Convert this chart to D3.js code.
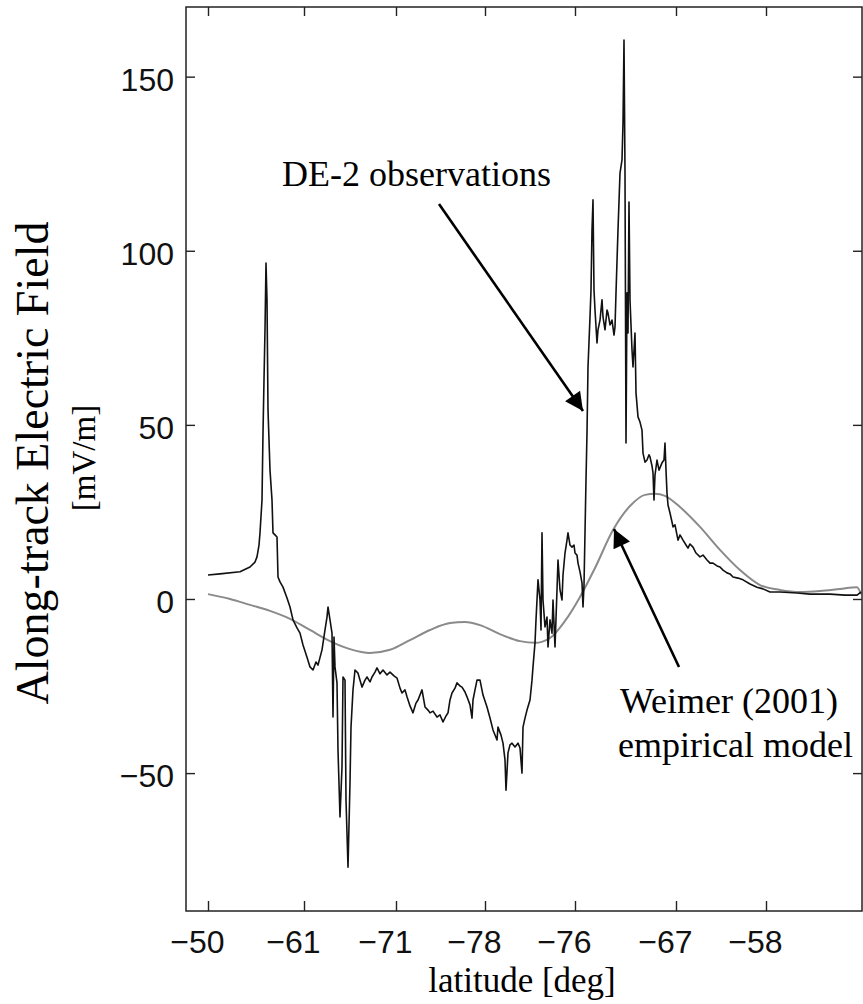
<!DOCTYPE html>
<html>
<head>
<meta charset="utf-8">
<script src="https://cdn.jsdelivr.net/npm/d3@7"></script>
<style>
  html, body { margin: 0; padding: 0; background: #fff; }
  svg { display: block; }
</style>
</head>
<body>
<svg id="chart" width="863" height="1004"></svg>
<script>
// Along-track position (arbitrary time units along the pass) and field values in mV/m.
const obsT = [22,34,54,64,69,71,73,74,76,77,78,79,80,81,82,84,86,87,89,91,92,94,97,101,104,107,111,114,117,121,124,127,130,132,136,139,141,142,144,146,147,148,149,151,152,154,156,157,159,160,162,164,165,167,169,172,176,179,181,184,186,189,191,194,197,201,204,208,211,214,216,219,221,224,227,230,232,236,239,242,244,247,251,254,257,260,262,264,266,269,271,274,276,279,281,284,286,287,289,291,294,297,301,304,307,311,312,315,317,319,320,322,324,326,329,332,334,336,337,339,341,344,346,347,349,350,351,352,354,355,356,357,359,361,362,364,366,367,369,371,372,374,376,377,379,381,382,384,386,388,389,391,392,394,396,397,398,399,400,401,402,404,405,406,407,408,409,411,412,414,416,417,419,421,422,424,426,428,429,430,432,434,436,437,438,439,440,441,442,443,444,446,447,449,450,452,454,456,457,459,461,463,464,466,467,468,469,471,473,476,478,479,480,481,482,484,486,487,489,492,494,497,500,502,504,507,510,514,517,521,524,527,531,534,537,541,544,547,552,557,564,571,577,584,594,611,624,644,659,671,675];
const obsE = [6.9,7.2,7.8,9.2,10.6,12.1,15.5,19.0,28.4,47.7,62.9,77.3,96.5,85.9,54.3,37.0,28.4,19.0,18.4,17.8,6.3,4.9,3.4,0.3,-2.3,-6.0,-8.3,-9.8,-13.2,-16.7,-19.5,-20.4,-18.1,-19.0,-14.6,-8.9,-5.2,-2.3,-6.0,-9.8,-33.9,-10.9,-19.5,-24.1,-43.4,-62.6,-48.2,-22.4,-23.3,-57.7,-77.0,-52.8,-36.8,-26.1,-20.4,-21.3,-25.3,-23.3,-22.4,-23.8,-22.4,-21.0,-19.8,-21.5,-20.4,-21.8,-21.0,-22.1,-22.7,-25.6,-27.0,-26.1,-28.1,-30.7,-32.7,-29.9,-29.0,-26.1,-31.0,-31.9,-32.7,-32.2,-33.9,-33.3,-35.3,-33.6,-32.7,-29.0,-27.0,-25.6,-24.1,-25.0,-25.3,-26.7,-28.1,-30.4,-34.2,-29.0,-26.1,-23.3,-23.3,-27.6,-31.0,-34.2,-37.6,-40.5,-36.8,-39.1,-41.4,-46.2,-54.9,-44.2,-41.9,-41.4,-42.5,-41.4,-42.8,-50.0,-36.8,-34.2,-31.9,-29.0,-23.3,-19.5,-12.6,-6.0,-0.3,5.5,-0.3,-8.9,19.0,-0.3,-8.0,-5.2,-13.8,-6.0,-9.8,-0.3,-13.8,2.6,11.2,2.6,-0.3,6.9,13.2,16.9,19.0,15.5,14.9,15.5,13.2,12.6,10.3,7.8,4.6,-2.3,4.0,19.0,34.2,47.7,66.6,81.0,88.7,106.0,114.6,88.7,83.0,73.5,77.3,80.1,85.9,81.0,77.3,83.0,82.1,78.7,80.1,75.8,78.1,87.9,106.0,122.3,126.1,136.7,160.5,122.3,44.8,87.9,76.4,114.0,85.9,71.5,66.6,76.4,59.2,52.3,50.8,48.5,41.9,39.3,39.9,41.4,40.8,38.2,36.2,28.4,35.6,39.9,37.0,39.1,39.9,44.8,37.0,30.4,27.0,24.7,22.1,20.7,21.3,16.9,18.4,16.9,15.5,14.6,15.8,14.9,13.2,12.1,12.6,11.2,10.3,10.3,9.5,9.2,8.3,7.5,7.2,6.3,6.0,5.5,4.3,3.4,2.9,2.0,2.0,1.7,1.4,1.4,1.1,1.1,2.0];

// Weimer (2001) empirical model along the same pass.
const modelT = [22,44,64,84,104,124,144,164,184,204,224,244,264,279,294,314,334,349,364,379,394,409,427,444,459,469,479,494,514,534,554,574,594,614,634,654,671,675];
const modelE = [1.4,0,-1.7,-3.4,-5.7,-8.9,-12.1,-14.4,-15.5,-14.6,-11.8,-8.9,-6.9,-6.6,-7.5,-10.1,-12.1,-12.6,-11.2,-6.3,0.6,8.9,19.8,26.7,29.9,30.2,29.6,26.4,20.7,14.1,8.3,4.0,2.6,2.0,2.3,2.9,3.4,1.4];

// Latitude tick labels along the pass.
const latTickPos = [22, 118, 210, 299, 389, 490, 580];
const latTickLabels = ["\u221250", "\u221261", "\u221271", "\u221278", "\u221276", "\u221267", "\u221258"];
const fieldTicks = [-50, 0, 50, 100, 150];

(function draw() {
  const svg = d3.select("#chart");
  const pL = 186, pR = 862, pT = 7, pB = 911;

  const x = d3.scaleLinear().domain([0, 676]).range([pL, pR]);
  const y = d3.scaleLinear().domain([-89.6, 170]).range([pB, pT]);

  const SANS = "'Liberation Sans', Arial, sans-serif";
  const SERIF = "'Liberation Serif', 'Times New Roman', serif";

  // Traces
  const plot = svg.append("g");
  plot.append("path")
    .datum(modelT.map((t, i) => [t, modelE[i]]))
    .attr("d", d3.line().x(d => x(d[0])).y(d => y(d[1])).curve(d3.curveMonotoneX))
    .attr("fill", "none").attr("stroke", "#8a8a8a").attr("stroke-width", 2);
  plot.append("path")
    .datum(obsT.map((t, i) => [t, obsE[i]]))
    .attr("d", d3.line().x(d => x(d[0])).y(d => y(d[1])))
    .attr("fill", "none").attr("stroke", "#111").attr("stroke-width", 1.6)
    .attr("stroke-linejoin", "round");

  // Axes with inward ticks
  const xb = svg.append("g").attr("transform", `translate(0,${pB})`)
    .call(d3.axisBottom(x).tickValues(latTickPos).tickSizeInner(-10).tickSizeOuter(0)
          .tickFormat((d, i) => latTickLabels[i]));
  xb.selectAll("text").attr("dx", -11).attr("dy", 0).attr("y", 42);
  const xt = svg.append("g").attr("transform", `translate(0,${pT})`)
    .call(d3.axisTop(x).tickValues(latTickPos).tickSizeInner(-9).tickSizeOuter(0).tickFormat(""));
  const yl = svg.append("g").attr("transform", `translate(${pL},0)`)
    .call(d3.axisLeft(y).tickValues(fieldTicks).tickSizeInner(-9).tickSizeOuter(0)
          .tickFormat(d => d < 0 ? "\u2212" + Math.abs(d) : String(d)));
  yl.selectAll("text").attr("x", -12).attr("dy", "0.36em").attr("y", 2);
  const yr = svg.append("g").attr("transform", `translate(${pR},0)`)
    .call(d3.axisRight(y).tickValues(fieldTicks).tickSizeInner(-9).tickSizeOuter(0).tickFormat(""));

  [xb, xt, yl, yr].forEach(g => {
    g.select(".domain").remove();
    g.selectAll(".tick line").attr("stroke", "#222").attr("stroke-width", 1.4);
    g.selectAll("text").attr("font-family", SANS).attr("font-size", 32).attr("fill", "#111");
  });

  // Frame
  svg.append("rect")
    .attr("x", pL).attr("y", pT).attr("width", pR - pL).attr("height", pB - pT)
    .attr("fill", "none").attr("stroke", "#222").attr("stroke-width", 1.5);

  // Axis titles
  svg.append("text")
    .attr("transform", "translate(48,463) rotate(-90)")
    .attr("text-anchor", "middle").attr("font-family", SERIF).attr("font-size", 46)
    .attr("fill", "#000").text("Along-track Electric Field");
  svg.append("text")
    .attr("transform", "translate(95,458) rotate(-90)")
    .attr("text-anchor", "middle").attr("font-family", SERIF).attr("font-size", 33)
    .attr("fill", "#000").text("[mV/m]");
  svg.append("text")
    .attr("x", 522).attr("y", 992)
    .attr("text-anchor", "middle").attr("font-family", SERIF).attr("font-size", 35)
    .attr("fill", "#000").text("latitude [deg]");

  // Annotations with arrows
  const defs = svg.append("defs");
  defs.append("marker")
    .attr("id", "head").attr("viewBox", "0 0 10 10").attr("refX", 10).attr("refY", 5)
    .attr("markerWidth", 8).attr("markerHeight", 7).attr("markerUnits", "strokeWidth")
    .attr("orient", "auto")
    .append("path").attr("d", "M0,0 L10,5 L0,10 z").attr("fill", "#000");

  svg.append("line")
    .attr("x1", 439).attr("y1", 204).attr("x2", 583).attr("y2", 411)
    .attr("stroke", "#000").attr("stroke-width", 2.6).attr("marker-end", "url(#head)");
  svg.append("line")
    .attr("x1", 679).attr("y1", 667).attr("x2", 614).attr("y2", 529)
    .attr("stroke", "#000").attr("stroke-width", 2.6).attr("marker-end", "url(#head)");

  svg.append("text")
    .attr("x", 282).attr("y", 186).attr("font-family", SERIF).attr("font-size", 36)
    .attr("fill", "#000").text("DE-2 observations");
  svg.append("text")
    .attr("x", 620).attr("y", 713).attr("font-family", SERIF).attr("font-size", 36)
    .attr("fill", "#000").text("Weimer (2001)");
  svg.append("text")
    .attr("x", 618).attr("y", 757).attr("font-family", SERIF).attr("font-size", 36)
    .attr("fill", "#000").text("empirical model");
})();
</script>
</body>
</html>
